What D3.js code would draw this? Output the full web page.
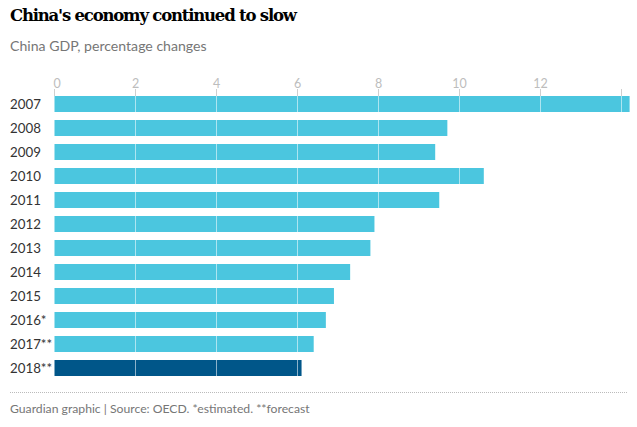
<!DOCTYPE html>
<html><head><meta charset="utf-8">
<script src="https://cdnjs.cloudflare.com/ajax/libs/d3/7.8.5/d3.min.js"></script>
<style>body{margin:0;background:#fff}svg{display:block}</style>
</head><body>
<script>
const years = ["2007","2008","2009","2010","2011","2012","2013","2014","2015","2016*","2017**","2018**"];
const values = [14.2,9.7,9.4,10.6,9.5,7.9,7.8,7.3,6.9,6.7,6.4,6.1];
const tickValues = [0,2,4,6,8,10,12,14];
const tickLabels = ["0","2","4","6","8","10","12",""];
const title = "China's economy continued to slow";
const subtitle = "China GDP, percentage changes";
const footnote = "Guardian graphic | Source: OECD. *estimated. **forecast";

const W = 637, H = 427;
const svg = d3.select("body").append("svg").attr("width", W).attr("height", H);
const sans = "Lato, 'Open Sans', sans-serif";

const x = d3.scaleLinear().domain([0, 14]).range([54.5, 621.5]);
const y = d3.scaleBand().domain(years).range([92, 380]).paddingInner(1/3).paddingOuter(1/6);

svg.append("text").attr("x", 10).attr("y", 21).text(title)
  .attr("font-family", "'DejaVu Serif', serif").attr("font-weight", "bold")
  .attr("font-size", 16.5).attr("fill", "#000").attr("letter-spacing", -1.2);
svg.append("text").attr("x", 10).attr("y", 51).text(subtitle)
  .attr("font-family", sans).attr("font-size", 14.1).attr("fill", "#767676");

// tick labels and small tick marks
const axisG = svg.append("g");
axisG.selectAll("line").data(tickValues).join("line")
  .attr("x1", d => x(d)).attr("x2", d => x(d)).attr("y1", 89).attr("y2", 96)
  .attr("stroke", "#cfcfcf").attr("stroke-width", 1);
axisG.selectAll("text").data(tickValues).join("text")
  .attr("x", d => d === 0 ? x(d) - 1 : x(d)).attr("y", 88)
  .attr("text-anchor", d => d === 0 ? "start" : "middle")
  .attr("font-family", sans).attr("font-size", 12.5).attr("fill", "#bdbdbd")
  .text((d, i) => tickLabels[i]);

// bars
svg.append("g").selectAll("rect").data(years).join("rect")
  .attr("x", x(0)).attr("y", d => y(d))
  .attr("width", (d, i) => x(values[i]) - x(0)).attr("height", y.bandwidth())
  .attr("fill", (d, i) => i === years.length - 1 ? "#005689" : "#4bc6df");

// gridlines through bars
svg.append("g").selectAll("line").data(tickValues.filter(d => d > 0)).join("line")
  .attr("x1", d => x(d)).attr("x2", d => x(d)).attr("y1", 96).attr("y2", 376)
  .attr("stroke", "#ffffff").attr("stroke-opacity", 0.55).attr("stroke-width", 1);

// year labels
svg.append("g").selectAll("text").data(years).join("text")
  .attr("x", 10).attr("y", d => y(d) + y.bandwidth() / 2 + 5)
  .attr("font-family", sans).attr("font-size", 13.3).attr("fill", "#333")
  .text(d => d);

// dotted rule
svg.append("line").attr("x1", 10).attr("x2", 627).attr("y1", 392.5).attr("y2", 392.5)
  .attr("stroke", "#bbb").attr("stroke-width", 1).attr("stroke-dasharray", "1,1");

svg.append("text").attr("x", 10).attr("y", 413).text(footnote)
  .attr("font-family", sans).attr("font-size", 12.2).attr("fill", "#767676");
</script>
</body></html>
